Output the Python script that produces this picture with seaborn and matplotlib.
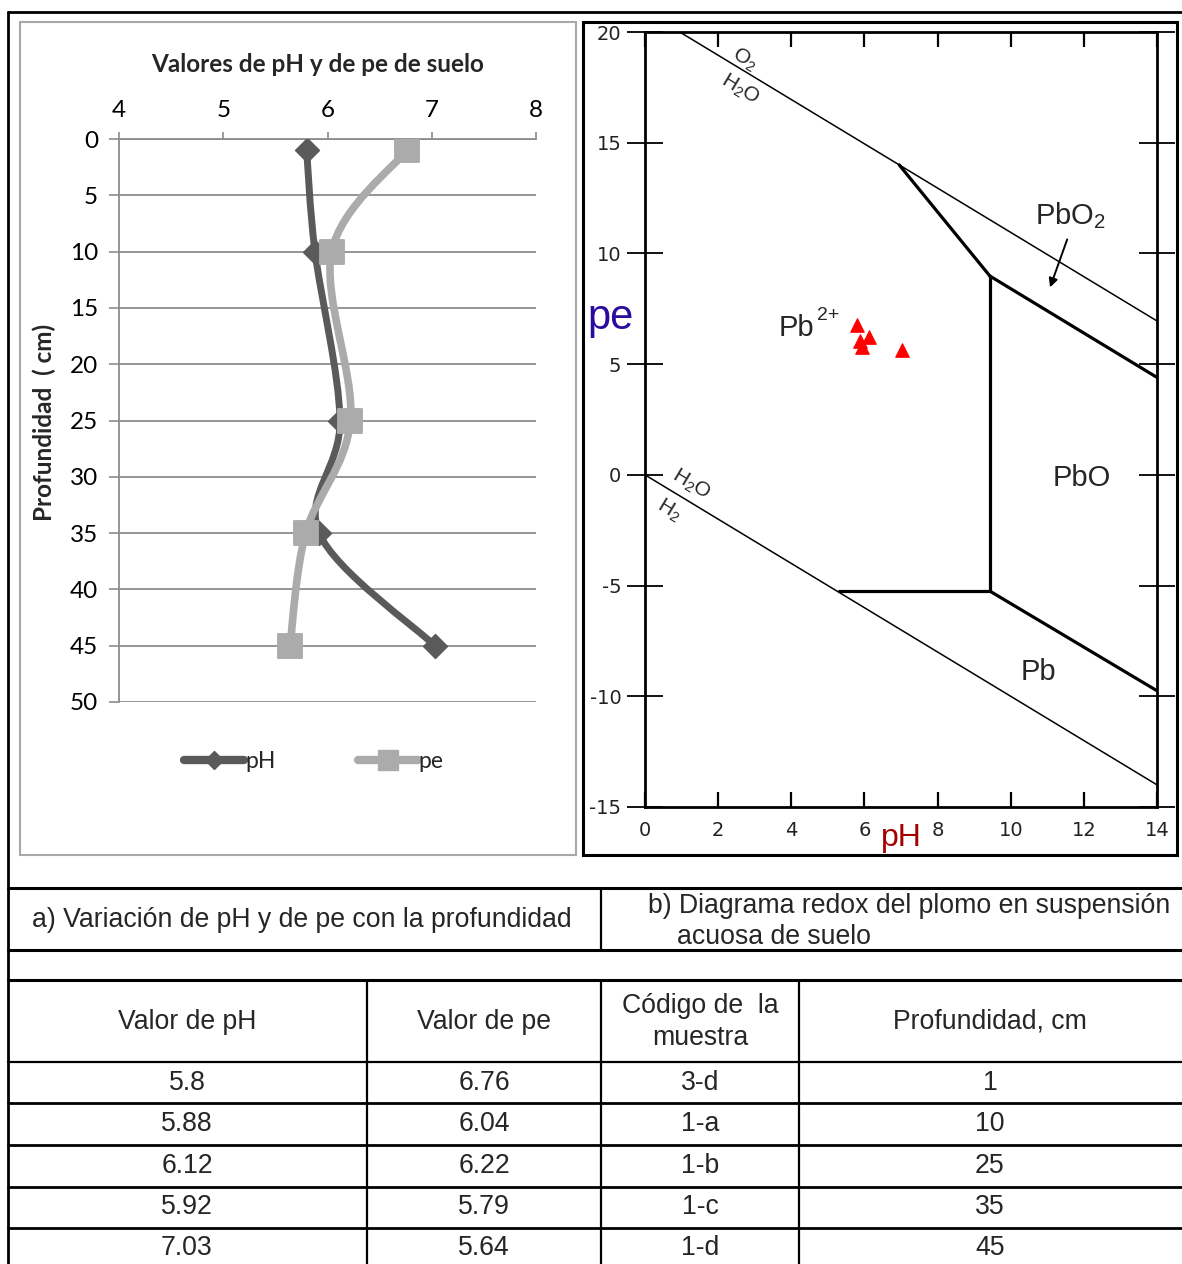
import numpy as np
import pandas as pd
import matplotlib
matplotlib.use("Agg")
import matplotlib.pyplot as plt
import seaborn as sns
from matplotlib.path import Path
from matplotlib.patches import PathPatch, Rectangle
from matplotlib.lines import Line2D

# ---------------- data ----------------
depth_cm = [1, 10, 25, 35, 45]
ph_values = [5.8, 5.88, 6.12, 5.92, 7.03]
pe_values = [6.76, 6.04, 6.22, 5.79, 5.64]
sample_codes = ["3-d", "1-a", "1-b", "1-c", "1-d"]
ph_labels = ["5.8", "5.88", "6.12", "5.92", "7.03"]
pe_labels = ["6.76", "6.04", "6.22", "5.79", "5.64"]
depth_labels = ["1", "10", "25", "35", "45"]

left_xticks = [4, 5, 6, 7, 8]
left_yticks = [0, 5, 10, 15, 20, 25, 30, 35, 40, 45, 50]
diag_xticks = [0, 2, 4, 6, 8, 10, 12, 14]
diag_yticks = [20, 15, 10, 5, 0, -5, -10, -15]

# Pb redox diagram boundaries (pH, pe)
water_o2_ph = [0.95, 14.0]
water_o2_pe = [20.0, 6.95]
water_h2_ph = [0.0, 14.0]
water_h2_pe = [0.0, -14.0]
pb2_pbo2_ph = [6.95, 9.43]
pb2_pbo2_pe = [14.0, 8.98]
pbo_pbo2_ph = [9.43, 14.0]
pbo_pbo2_pe = [8.98, 4.4]
pb2_pbo_ph = [9.43, 9.43]
pb2_pbo_pe = [8.98, -5.25]
pb2_pb_ph = [5.3, 9.43]
pb2_pb_pe = [-5.25, -5.25]
pbo_pb_ph = [9.43, 14.0]
pbo_pb_pe = [-5.25, -9.75]

# ---------------- setup ----------------
sns.set_theme(style="white")
plt.rcParams["font.family"] = ["Liberation Sans", "DejaVu Sans"]
plt.rcParams["mathtext.fontset"] = "custom"
plt.rcParams["mathtext.rm"] = "Liberation Sans"
plt.rcParams["mathtext.it"] = "Liberation Sans"
plt.rcParams["mathtext.default"] = "regular"
plt.rcParams["axes.unicode_minus"] = False

W, H = 1182, 1264
fig = plt.figure(figsize=(W / 100, H / 100), dpi=100)
fig.patch.set_facecolor("white")


def fa(x0, y0, x1, y1):
    return [x0 / W, 1 - y1 / H, (x1 - x0) / W, (y1 - y0) / H]


bg = fig.add_axes([0, 0, 1, 1], zorder=0)
bg.set_xlim(0, W)
bg.set_ylim(H, 0)
bg.axis("off")

# outer frame / table lines
K = "black"
bg.plot([8, W], [12, 12], color=K, lw=2)
bg.plot([8, 8], [12, H], color=K, lw=2)
for yy, lw in [(888, 2.2), (950, 2.2), (980, 2.2), (1062, 1.6), (1103, 2.0),
               (1145, 2.0), (1187, 2.0), (1228, 2.0)]:
    bg.plot([8, W], [yy, yy], color=K, lw=lw)
bg.plot([601, 601], [888, 950], color=K, lw=1.6)
for xx in [367, 601, 799]:
    bg.plot([xx, xx], [980, H], color=K, lw=1.6)

# panel boxes
bg.add_patch(Rectangle((20, 22), 556, 833, fill=False, ec="#a8a8a8", lw=1.5))
bg.add_patch(Rectangle((583, 22), 594, 833, fill=False, ec="black", lw=2.2))

# captions
cap_fs = 19.2
bg.text(32, 920, "a) Variación de pH y de pe con la profundidad", ha="left",
        va="center", fontsize=cap_fs)
bg.text(648, 906, "b) Diagrama redox del plomo en suspensión", ha="left",
        va="center", fontsize=cap_fs)
bg.text(677, 937, "acuosa de suelo", ha="left", va="center", fontsize=cap_fs)

# table
col_centers = [187, 484, 700, 990]
headers = ["Valor de pH", "Valor de pe", "Código de  la\nmuestra", "Profundidad, cm"]
for cx, htxt in zip(col_centers, headers):
    bg.text(cx, 1022, htxt, ha="center", va="center", fontsize=cap_fs,
            multialignment="center", linespacing=1.32)
row_centers = [1083, 1124, 1166, 1207, 1248]
for i, ry in enumerate(row_centers):
    for cx, txt in zip(col_centers, [ph_labels[i], pe_labels[i],
                                      sample_codes[i], depth_labels[i]]):
        bg.text(cx, ry, txt, ha="center", va="center", fontsize=cap_fs)

# ---------------- left chart ----------------
LF = ["Lato", "DejaVu Sans"]
ph_col = "#5a5a5a"
pe_col = "#ababab"
grid_col = "#8c8c8c"
lfs = 17.5

ax1 = fig.add_axes(fa(119, 139, 536, 702), zorder=2)
ax1.set_facecolor("none")
ax1.set_xlim(4, 8)
ax1.set_ylim(50, 0)
ax1.xaxis.tick_top()
ax1.set_xticks(left_xticks)
ax1.set_yticks(left_yticks)
ax1.yaxis.grid(True, color=grid_col, lw=1.3)
ax1.xaxis.grid(False)
for s in ["right", "bottom"]:
    ax1.spines[s].set_visible(False)
for s in ["left", "top"]:
    ax1.spines[s].set_color(grid_col)
    ax1.spines[s].set_linewidth(1.3)
ax1.tick_params(axis="x", top=True, bottom=False, direction="out", length=5,
                width=1.2, color=grid_col, pad=8, labelsize=lfs)
ax1.tick_params(axis="y", left=True, direction="out", length=7, width=1.2,
                color=grid_col, pad=8, labelsize=lfs)
for lab in ax1.get_xticklabels() + ax1.get_yticklabels():
    lab.set_family(LF)
    lab.set_color("black")


def smooth_path(xs, ys):
    pts = np.column_stack([xs, ys]).astype(float)
    n = len(pts)
    verts = [pts[0]]
    codes = [Path.MOVETO]
    for i in range(n - 1):
        p0 = pts[i - 1] if i > 0 else pts[i]
        p1 = pts[i]
        p2 = pts[i + 1]
        p3 = pts[i + 2] if i + 2 < n else pts[i + 1]
        verts += [p1 + (p2 - p0) / 6.0, p2 - (p3 - p1) / 6.0, p2]
        codes += [Path.CURVE4] * 3
    return Path(verts, codes)


ax1.add_patch(PathPatch(smooth_path(ph_values, depth_cm), fill=False, ec=ph_col,
                        lw=5, capstyle="round", joinstyle="round", zorder=3))
sns.scatterplot(x=ph_values, y=depth_cm, ax=ax1, marker="D", s=150,
                color=ph_col, edgecolor=ph_col, zorder=4, legend=False)
ax1.add_patch(PathPatch(smooth_path(pe_values, depth_cm), fill=False, ec=pe_col,
                        lw=5.5, capstyle="round", joinstyle="round", zorder=5))
sns.scatterplot(x=pe_values, y=depth_cm, ax=ax1, marker="s", s=290,
                color=pe_col, edgecolor=pe_col, zorder=6, legend=False)

handles = [
    Line2D([], [], color=ph_col, lw=6, marker="D", markersize=9,
           solid_capstyle="round"),
    Line2D([], [], color=pe_col, lw=6, marker="s", markersize=14,
           solid_capstyle="round"),
]
leg = ax1.legend(handles, ["pH", "pe"], loc="center",
                 bbox_to_anchor=(314 / W, 1 - 762 / H),
                 bbox_transform=fig.transFigure, ncol=2, frameon=False,
                 handlelength=2.6, handletextpad=0.05, columnspacing=3.6,
                 prop={"family": LF, "size": 16.5})

bg.text(318, 64, "Valores de pH y de pe de suelo", ha="center", va="center",
        fontsize=17.5, fontweight="bold", family=LF)
bg.text(44, 422, "Profundidad  ( cm)", ha="center", va="center", rotation=90,
        fontsize=17.5, fontweight="bold", family=LF)

# ---------------- right diagram ----------------
ax2 = fig.add_axes(fa(645, 32, 1157, 807), zorder=2)
ax2.set_facecolor("white")
ax2.set_xlim(0, 14)
ax2.set_ylim(-15, 20)
ax2.set_xticks(diag_xticks)
ax2.set_yticks(diag_yticks)
ax2.grid(False)
for s in ax2.spines.values():
    s.set_color("black")
    s.set_linewidth(2)
ax2.tick_params(axis="x", bottom=True, top=True, direction="in", length=11,
                width=1.6, color="black", pad=10, labelsize=14,
                labelcolor="#222222")
ax2.tick_params(axis="y", left=True, right=True, direction="inout", length=26,
                width=1.3, color="black", pad=4, labelsize=14,
                labelcolor="#222222")
for lab in ax2.get_xticklabels() + ax2.get_yticklabels():
    lab.set_family(["DejaVu Sans"])

thin = 1.1
thick = 2.3
ax2.plot(water_o2_ph, water_o2_pe, color="black", lw=thin)
ax2.plot(water_h2_ph, water_h2_pe, color="black", lw=thin)
ax2.plot(pb2_pbo2_ph, pb2_pbo2_pe, color="black", lw=thick, solid_capstyle="round")
ax2.plot(pbo_pbo2_ph, pbo_pbo2_pe, color="black", lw=thick, solid_capstyle="round")
ax2.plot(pb2_pbo_ph, pb2_pbo_pe, color="black", lw=thick, solid_capstyle="round")
ax2.plot(pb2_pb_ph, pb2_pb_pe, color="black", lw=thick, solid_capstyle="round")
ax2.plot(pbo_pb_ph, pbo_pb_pe, color="black", lw=thick, solid_capstyle="round")

sns.scatterplot(x=ph_values, y=pe_values, ax=ax2, marker="^", s=95,
                color="#ff0000", edgecolor="#ff0000", zorder=5, legend=False)

LBL = ["Liberation Sans", "DejaVu Sans"]
rfs = 21
ax2.text(2.73, 18.75, "O$_2$", rotation=-31, ha="center", va="center",
         fontsize=15, family=LBL)
ax2.text(2.6, 17.4, "H$_2$O", rotation=-31, ha="center", va="center",
         fontsize=15, family=LBL)
ax2.text(1.25, -0.45, "H$_2$O", rotation=-31, ha="center", va="center",
         fontsize=15, family=LBL)
ax2.text(0.65, -1.6, "H$_2$", rotation=-31, ha="center", va="center",
         fontsize=15, family=LBL)
ax2.text(11.62, 11.7, "PbO$_2$", ha="center", va="center", fontsize=rfs,
         family=LBL)
ax2.annotate("", xy=(11.05, 8.35), xytext=(11.57, 10.75),
             arrowprops=dict(arrowstyle="-|>", color="black", lw=1.4,
                             mutation_scale=13))
ax2.text(4.15, 6.65, "Pb", ha="center", va="center", fontsize=rfs, family=LBL)
ax2.text(5.0, 7.2, "2+", ha="center", va="center", fontsize=14, family=LBL)
ax2.text(11.95, -0.15, "PbO", ha="center", va="center", fontsize=rfs,
         family=LBL)
ax2.text(10.75, -8.9, "Pb", ha="center", va="center", fontsize=rfs, family=LBL)

bg.text(611, 318, "pe", ha="center", va="center", fontsize=30,
        color="#2a0c9e", zorder=5)
bg.text(901, 838, "pH", ha="center", va="center", fontsize=23,
        color="#a50000", zorder=5)

fig.savefig("out.png", dpi=100, facecolor="white")
